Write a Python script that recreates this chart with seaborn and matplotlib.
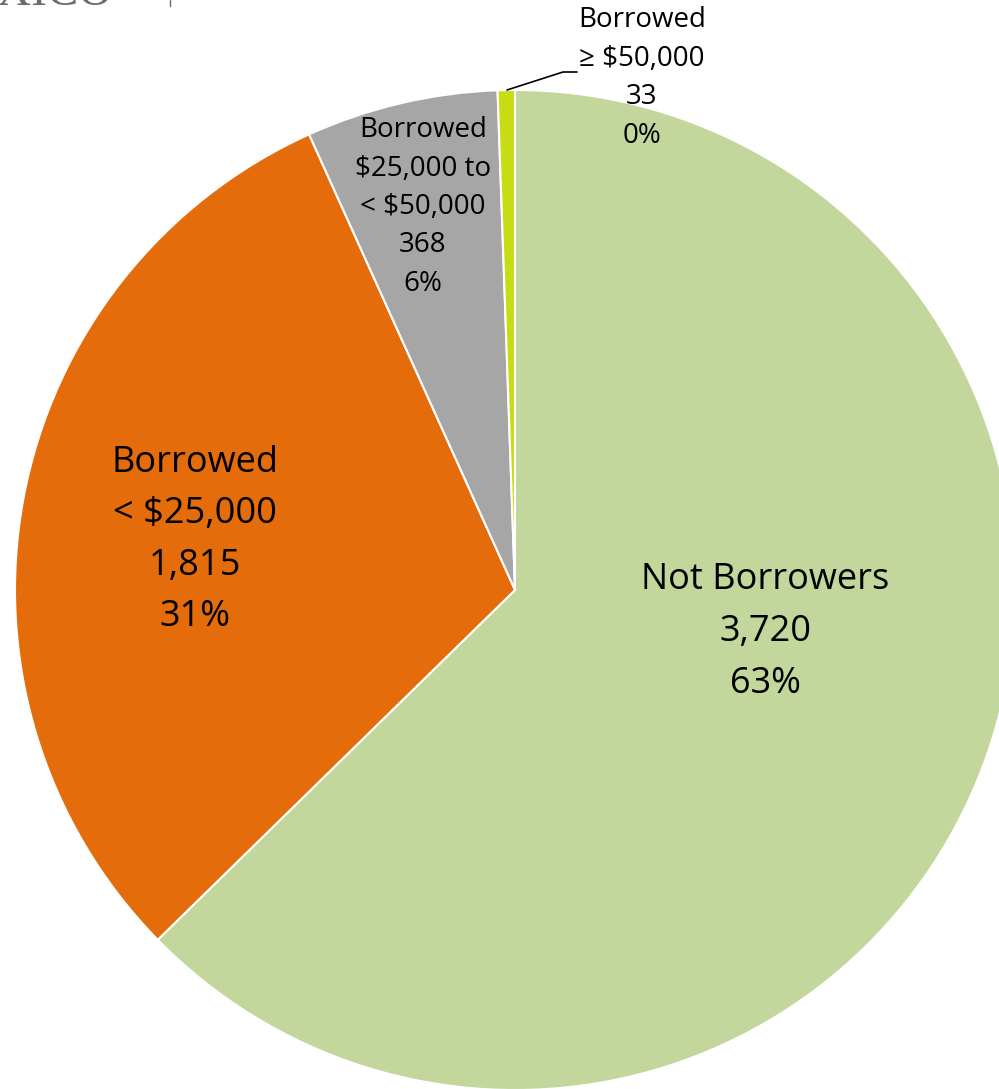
import matplotlib
matplotlib.use("Agg")
import matplotlib.pyplot as plt
import seaborn as sns

# Student borrowing categories
categories = ["Not Borrowers", "Borrowed\n< $25,000", "Borrowed\n$25,000 to\n< $50,000", "Borrowed\n≥ $50,000"]
counts = [3720, 1815, 368, 33]
pct_labels = ["63%", "31%", "6%", "0%"]
colors = ["#C3D69B", "#E46C0A", "#A6A6A6", "#C8DC14"]

sns.set_theme(style="white")
plt.rcParams["font.family"] = ["Open Sans", "DejaVu Sans"]

W, H, DPI = 999, 1089, 100
fig = plt.figure(figsize=(W / DPI, H / DPI), dpi=DPI)
ax = fig.add_axes([0, 0, 1, 1])

# pie centred at pixel (515, 590) with a 500 px radius
R = 500.0
cx, cy = 515.0, 590.0

wedges, _ = ax.pie(counts, colors=colors, startangle=90, counterclock=False,
                   radius=1.0, center=(0, 0),
                   wedgeprops=dict(edgecolor="white", linewidth=1.5))
ax.set_axis_off()
ax.set_xlim(-cx / R, (W - cx) / R)
ax.set_ylim(-(H - cy) / R, cy / R)
ax.set_aspect("equal")


def px(x, y):
    return (x - cx) / R, (cy - y) / R


labels = [f"{c}\n{n:,}\n{p}" for c, n, p in zip(categories, counts, pct_labels)]
# label anchor (pixel), font size, line spacing
placements = [((765, 632), 26, 1.58),
              ((195, 540), 26, 1.58),
              ((423, 207), 20, 1.5),
              ((642, 78), 20, 1.5)]
for text, ((lx, ly), fs, ls) in zip(labels, placements):
    x, y = px(lx, ly)
    ax.text(x, y, text, ha="center", va="center", fontsize=fs,
            linespacing=ls, color="black")

# leader line for the smallest slice
lx, ly = zip(px(507, 90), px(563, 72), px(577, 72))
ax.plot(lx, ly, color="black", linewidth=1.2)

# clipped header mark
fig.text(112 / W, 1 - 5 / H, "XICO", ha="right", va="baseline",
         fontsize=34, color="#6b6b6b", family=["Liberation Serif", "DejaVu Serif"])
fig.add_artist(plt.Line2D([170 / W, 170 / W], [1 - 6 / H, 1.0],
                          color="#6b6b6b", linewidth=1))

fig.savefig("out.png", dpi=DPI)
